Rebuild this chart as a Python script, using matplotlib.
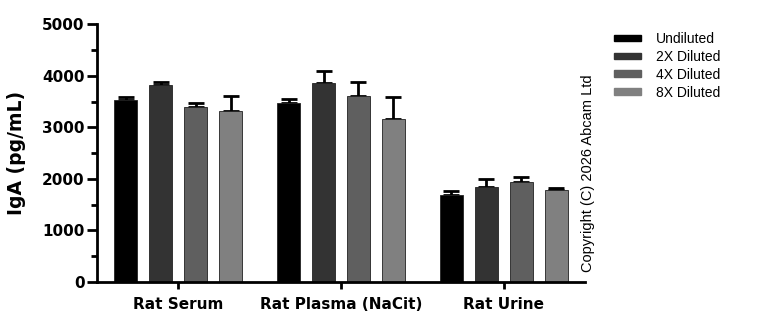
import numpy as np
import matplotlib.pyplot as plt
from matplotlib.ticker import MultipleLocator
from matplotlib.patches import Patch

# sample groups and dilution series
samples = ["Rat Serum", "Rat Plasma (NaCit)", "Rat Urine"]
dilutions = ["Undiluted", "2X Diluted", "4X Diluted", "8X Diluted"]
colors = ["#000000", "#333333", "#5f5f5f", "#808080"]

# mean IgA (pg/mL) per dilution, one value per sample
undiluted = [3533, 3481, 1692]
diluted_2x = [3824, 3862, 1847]
diluted_4x = [3403, 3616, 1950]
diluted_8x = [3314, 3159, 1783]

# upper error bars (SD)
err_undiluted = [55, 65, 83]
err_2x = [58, 227, 155]
err_4x = [78, 266, 85]
err_8x = [300, 432, 50]

means = [undiluted, diluted_2x, diluted_4x, diluted_8x]
errs = [err_undiluted, err_2x, err_4x, err_8x]

fig = plt.figure(figsize=(7.68, 3.25), dpi=100)
ax = fig.add_axes([0.1263, 0.1323, 0.7617 - 0.1263, 0.9252 - 0.1323])

x = np.arange(len(samples))
step = 0.215
width = 0.142
for i, (m, e) in enumerate(zip(means, errs)):
    pos = x + (i - 1.5) * step
    ax.bar(pos, m, width, color=colors[i], edgecolor="#222222", linewidth=0.6,
           zorder=2)
    ax.errorbar(pos, m, yerr=[np.zeros(len(e)), e], fmt="none", ecolor="black",
                elinewidth=2, capsize=6, capthick=2, zorder=1)

ax.set_xlim(-0.5, 2.5)
ax.set_ylim(0, 5000)
ax.yaxis.set_major_locator(MultipleLocator(1000))
ax.yaxis.set_minor_locator(MultipleLocator(500))
ax.set_xticks(x)
ax.set_xticklabels(samples, fontsize=11, fontweight="bold")
for lbl in ax.get_yticklabels():
    lbl.set_fontsize(11)
    lbl.set_fontweight("bold")

for side in ["top", "right"]:
    ax.spines[side].set_visible(False)
for side in ["left", "bottom"]:
    ax.spines[side].set_linewidth(2)
ax.tick_params(axis="y", which="major", length=7, width=2, pad=2)
ax.tick_params(axis="y", which="minor", length=4, width=2)
ax.tick_params(axis="x", which="major", length=5, width=2, pad=6)

ax.set_ylabel("IgA (pg/mL)", fontsize=13.5, fontweight="bold")
ax.yaxis.set_label_coords(-0.146, 0.5)

handles = [Patch(facecolor=c, edgecolor=c) for c in colors]
fig.legend(handles, dilutions, loc="upper left", bbox_to_anchor=(0.783, 0.94),
           frameon=False, handlelength=1.95, handleheight=0.36,
           labelspacing=0.28, handletextpad=1.1,
           prop={"family": "Liberation Sans", "size": 10})

fig.text(0.766, 0.468, "Copyright (C) 2026 Abcam Ltd", rotation=90,
         family="Liberation Sans", fontsize=10.5, ha="center", va="center")

fig.savefig("out.png", dpi=100)
